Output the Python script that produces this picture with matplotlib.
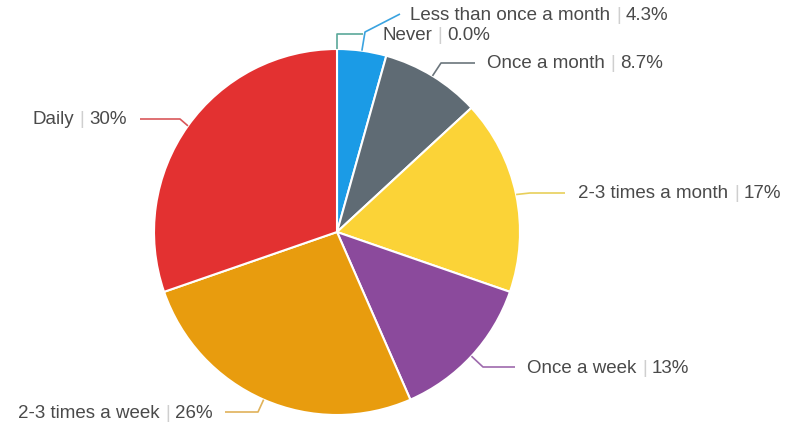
import numpy as np
import matplotlib
matplotlib.use("Agg")
import matplotlib.pyplot as plt

W, H = 788, 427

labels = ["Never", "Less than once a month", "Once a month", "2-3 times a month",
          "Once a week", "2-3 times a week", "Daily"]
values = [0.0, 4.3, 8.7, 17, 13, 26, 30]
value_text = ["0.0%", "4.3%", "8.7%", "17%", "13%", "26%", "30%"]
colors = ["#2aa198", "#1b9be6", "#5f6b74", "#fbd337", "#8b4a9c", "#e89c0e", "#e33131"]
line_colors = ["#5aa89a", "#3aa3e0", "#6b757c", "#e8cf5a", "#9e6aad", "#e0b25a", "#d9575a"]

# leader geometry in pixel space: elbow point, end point, text anchor x, text y, alignment
leaders = [
    [(337, 35), (363, 35), 382, 35, "left"],
    [(365, 33), (400, 15), 410, 16, "left"],
    [(441, 64), (475, 64), 487, 64, "left"],
    [(530, 194), (565, 194), 578, 194, "left"],
    [(483, 368), (515, 368), 527, 369, "left"],
    [(258, 413), (225, 413), 213, 414, "right"],
    [(180, 120), (140, 120), 127, 119, "right"],
]

CX, CY, R = 337, 233, 183
FS = 13.5
GAP_L, GAP_R = 6, 5


def fy(y):
    return H - y


plt.rcParams["font.family"] = ["Liberation Sans", "DejaVu Sans"]
fig = plt.figure(figsize=(W / 100, H / 100), dpi=100)
ax = fig.add_axes([0, 0, 1, 1])
ax.set_xlim(0, W)
ax.set_ylim(0, H)
ax.axis("off")

wedges, _ = ax.pie(values, colors=colors, startangle=90, counterclock=False,
                   center=(CX, fy(CY)), radius=R,
                   wedgeprops=dict(edgecolor="white", linewidth=1.5))
ax.set_xlim(0, W)
ax.set_ylim(0, H)
ax.set_aspect("equal")

total = sum(values)
fig.canvas.draw()
renderer = fig.canvas.get_renderer()


def text_width(s):
    t = ax.text(0, 0, s, fontsize=FS)
    w = t.get_window_extent(renderer).width
    t.remove()
    return w


start = 0.0
for i, v in enumerate(values):
    frac = v / total * 360
    mid = np.radians(start + frac / 2)
    start += frac
    x0 = CX + R * np.sin(mid)
    y0 = CY - R * np.cos(mid)
    (ex, ey), (lx, ly), tx, ty, ha = leaders[i]
    ax.plot([x0, ex, lx], [fy(y0), fy(ey), fy(ly)], color=line_colors[i], lw=1.2,
            solid_capstyle="butt", clip_on=False)

    # name, light separator, value laid out piece by piece
    wn = text_width(labels[i])
    ws = text_width("|")
    wv = text_width(value_text[i])
    total_w = wn + GAP_L + ws + GAP_R + wv
    x = tx if ha == "left" else tx - total_w
    ax.text(x, fy(ty), labels[i], fontsize=FS, color="#4a4a4a", va="center")
    x += wn + GAP_L
    ax.text(x, fy(ty), "|", fontsize=FS, color="#cfcfcf", va="center")
    x += ws + GAP_R
    ax.text(x, fy(ty), value_text[i], fontsize=FS, color="#4a4a4a", va="center")

fig.savefig("out.png", dpi=100, facecolor="white")
